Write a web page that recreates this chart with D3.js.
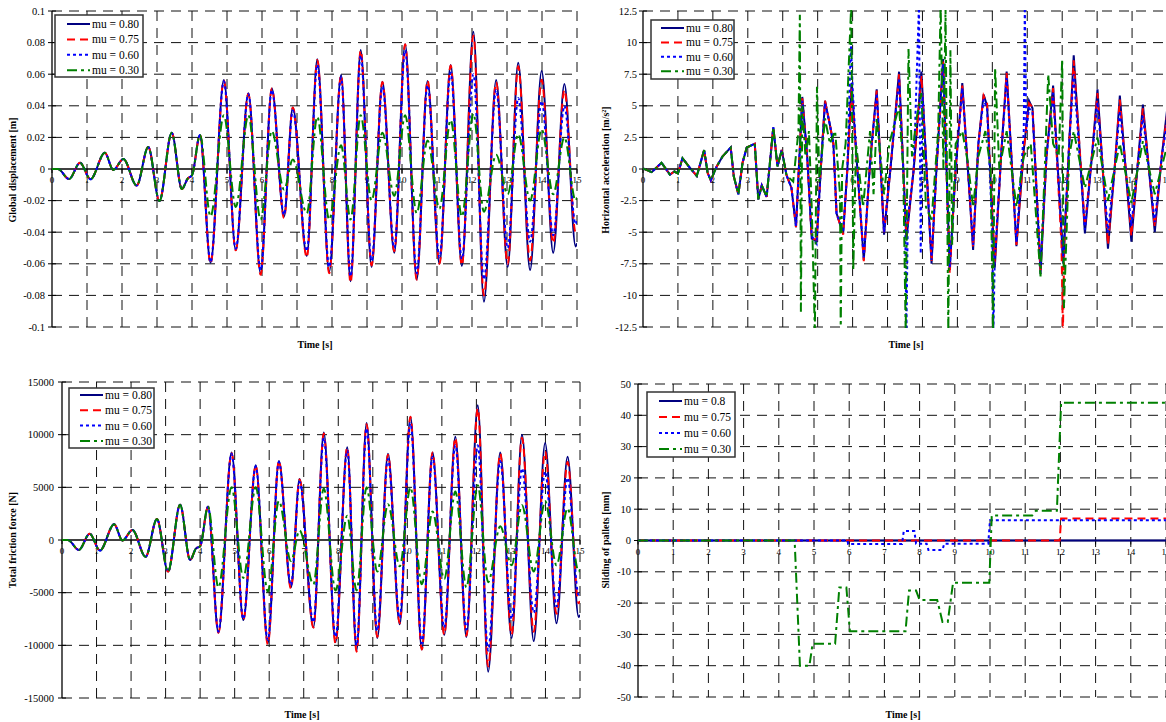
<!DOCTYPE html>
<html><head><meta charset="utf-8">
<script src="https://cdn.jsdelivr.net/npm/d3@7"></script>
<style>
body{margin:0;background:#fff}
svg{display:block}
text{font-family:"Liberation Serif","Times New Roman",serif;fill:#000}
</style>
</head><body>
<svg id="chart" width="1166" height="722"></svg>
<script>
// ---------------- DATA ----------------
const legendLabels = ["mu = 0.80", "mu = 0.75", "mu = 0.60", "mu = 0.30"];
const slideLegendLabels = ["mu = 0.8", "mu = 0.75", "mu = 0.60", "mu = 0.30"];
const timeTicks = [0,1,2,3,4,5,6,7,8,9,10,11,12,13,14,15];
const dispTicks = [-0.1,-0.08,-0.06,-0.04,-0.02,0,0.02,0.04,0.06,0.08,0.1];
const accTicks = [-12.5,-10,-7.5,-5,-2.5,0,2.5,5,7.5,10,12.5];
const forceTicks = [-15000,-10000,-5000,0,5000,10000,15000];
const slideTicks = [-50,-40,-30,-20,-10,0,10,20,30,40,50];

// times of the extrema read for displacement and friction force
const extremaTime = [0,0.17,0.49,0.8,1.1, 1.51,1.75,2.04,2.42,2.75, 3.07,3.42,3.71,3.88,4.0,
  4.23,4.53,4.91,5.25,5.61, 5.96,6.28,6.63,6.88,7.28, 7.58,7.92,8.26,8.53,8.82,
  9.13,9.44,9.78,10.09,10.42, 10.73,11.07,11.39,11.71,12.04, 12.34,12.69,13.02,13.32,13.66,
  13.99,14.32,14.64,14.96,15];

const disp80 = [0,0,-0.0064,0.004,-0.0065, 0.0103,-0.0006,0.0063,-0.0105,0.0139, -0.0203,0.023,-0.0127,-0.006,-0.004,
  0.0215,-0.0593,0.0563,-0.0513,0.0479, -0.066,0.051,-0.030,0.039,-0.055, 0.0694,-0.065,0.0595,-0.071,0.0753,
  -0.062,0.0553,-0.053,0.0789,-0.070, 0.0557,-0.060,0.0658,-0.0614,0.0869, -0.084,0.0563,-0.062,0.0673,-0.064,
  0.062,-0.053,0.0538,-0.049,-0.047];
const disp75 = [0,0,-0.0064,0.004,-0.0065, 0.0103,-0.0006,0.0063,-0.0105,0.0139, -0.0203,0.023,-0.0127,-0.006,-0.004,
  0.0215,-0.0598,0.056,-0.0515,0.0476, -0.067,0.051,-0.031,0.039,-0.056, 0.069,-0.066,0.0595,-0.072,0.075,
  -0.061,0.055,-0.052,0.079,-0.070, 0.056,-0.060,0.0655,-0.061,0.0845, -0.080,0.055,-0.060,0.065,-0.058,
  0.0565,-0.047,0.050,-0.040,-0.038];
const disp60 = [0,0,-0.0064,0.004,-0.0065, 0.0103,-0.0006,0.0063,-0.0105,0.0139, -0.0203,0.023,-0.0127,-0.006,-0.004,
  0.0215,-0.059,0.0555,-0.0505,0.0475, -0.064,0.050,-0.029,0.037,-0.052, 0.066,-0.062,0.058,-0.068,0.072,
  -0.058,0.052,-0.050,0.075,-0.066, 0.053,-0.056,0.061,-0.057,0.060, -0.070,0.050,-0.050,0.045,-0.046,
  0.043,-0.042,0.040,-0.035,-0.033];
const disp30 = [0,0,-0.0064,0.004,-0.0065, 0.0103,-0.0006,0.0063,-0.0105,0.0139, -0.0203,0.023,-0.0127,-0.006,-0.004,
  0.0215,-0.030,0.034,-0.024,0.034, -0.032,0.024,-0.013,0.006,-0.028, 0.033,-0.032,0.015,-0.032,0.034,
  -0.020,0.023,-0.017,0.034,-0.028, 0.018,-0.025,0.031,-0.030,0.035, -0.027,0.009,-0.016,0.022,-0.020,
  0.025,-0.016,0.020,-0.020,-0.018];

const force80 = [0,0,-950,600,-1000, 1500,-50,950,-1600,2000, -3000,3350,-1900,-800,-600,
  3150,-8800,8300,-7600,7100, -9800,7500,-4500,5800,-8300, 10200,-9700,8800,-10500,11100,
  -9300,8200,-8000,11700,-10400, 8300,-9000,9800,-9200,12800, -12500,8300,-9300,10000,-9600,
  9200,-7900,7900,-7300,-7100];
const force75 = [0,0,-950,600,-1000, 1500,-50,950,-1600,2000, -3000,3350,-1900,-800,-600,
  3150,-8800,8250,-7600,7050, -9900,7500,-4600,5750,-8300, 10100,-9800,8800,-10600,11000,
  -9200,8100,-7900,11700,-10400, 8300,-9000,9700,-9100,12500, -12000,8200,-9000,9700,-8700,
  8400,-7000,7400,-6000,-5800];
const force60 = [0,0,-950,600,-1000, 1500,-50,950,-1600,2000, -3000,3350,-1900,-800,-600,
  3150,-8700,8200,-7500,7000, -9500,7400,-4300,5500,-7800, 9700,-9200,8500,-10000,10600,
  -8600,7700,-7400,11100,-9800, 7900,-8300,9000,-8500,9000, -10500,7500,-7500,6800,-6900,
  6500,-6300,5900,-5200,-5000];
const force30 = [0,0,-950,600,-1000, 1500,-50,950,-1600,2000, -3000,3350,-1900,-800,-600,
  3150,-4500,5000,-3600,5000, -4900,3700,-2000,900,-4200, 4900,-4800,2300,-4800,5000,
  -3000,3400,-2500,5000,-4200, 2700,-3700,4600,-4500,5200, -4000,1300,-2400,3300,-3000,
  3700,-2400,3000,-3000,-2800];

// horizontal acceleration [t, a]
const acc80 = [[0,0.05],[0.25,-0.25],[0.53,0.5],[0.77,-0.45],[0.9,-0.2],[1.0,-0.35],[1.13,0.85],[1.34,0.1],
  [1.54,-0.55],[1.75,1.5],[1.85,-0.3],[1.94,-0.9],[2.11,0.2],[2.28,1.0],[2.51,1.7],[2.6,-0.6],[2.73,-2.0],
  [2.85,0.5],[2.97,1.7],[3.2,2.0],[3.3,-2.4],[3.4,-1.3],[3.54,-2.2],[3.73,3.3],[3.85,0.2],[3.97,1.5],
  [4.11,-0.5],[4.25,-1.5],[4.38,-4.6],[4.56,5.7],[4.7,1.0],[4.83,-5.5],[4.97,-5.7],[5.1,0.5],[5.21,5.4],
  [5.35,3.5],[5.45,2],[5.54,-3.5],[5.73,-5.1],[5.85,0],[5.97,6.8],[6.11,1.0],[6.32,-7.2],[6.5,0.5],
  [6.69,6.3],[6.9,-5.2],[7.1,0.5],[7.33,7.7],[7.54,-5.6],[7.75,0],[7.97,7.7],[8.26,-7.5],[8.4,0],
  [8.59,8.7],[8.78,-8.0],[8.95,0],[9.14,6.8],[9.45,-6.4],[9.6,2],[9.75,5.9],[9.85,5.0],[10.07,-7.8],
  [10.25,1],[10.41,7.7],[10.69,-6.1],[10.9,1.5],[11.05,5.4],[11.15,4.8],[11.38,-8.3],[11.55,1],[11.74,6.6],
  [12.03,-7.5],[12.2,2],[12.33,9.0],[12.65,-5.1],[12.85,1],[13.01,6.3],[13.31,-6.3],[13.5,0],[13.65,5.8],
  [13.98,-5.75],[14.15,0],[14.31,5.1],[14.65,-5.0],[14.85,1],[15,4.6]];
const acc75 = [[0,0.05],[0.25,-0.25],[0.53,0.5],[0.77,-0.45],[0.9,-0.2],[1.0,-0.35],[1.13,0.85],[1.34,0.1],
  [1.54,-0.55],[1.75,1.5],[1.85,-0.3],[1.94,-0.9],[2.11,0.2],[2.28,1.0],[2.51,1.7],[2.6,-0.6],[2.73,-2.0],
  [2.85,0.5],[2.97,1.7],[3.2,2.0],[3.3,-2.4],[3.4,-1.3],[3.54,-2.2],[3.73,3.3],[3.85,0.2],[3.97,1.5],
  [4.11,-0.5],[4.25,-1.5],[4.38,-4.6],[4.56,5.6],[4.7,1.0],[4.83,-5.5],[4.97,-5.6],[5.1,0.5],[5.21,5.4],
  [5.35,3.5],[5.45,2],[5.54,-3.5],[5.73,-5.2],[5.85,0],[5.97,6.5],[6.11,1.0],[6.32,-7.3],[6.5,0.5],
  [6.69,6.2],[6.9,-5.0],[7.1,0.5],[7.33,7.5],[7.54,-5.4],[7.75,0],[7.97,7.4],[8.26,-7.3],[8.4,0],
  [8.59,8.5],[8.78,-8.3],[8.95,0],[9.14,6.6],[9.45,-6.2],[9.6,2],[9.75,5.8],[9.85,5.2],[10.07,-7.5],
  [10.25,1],[10.41,7.6],[10.69,-6.0],[10.9,1.5],[11.05,5.2],[11.15,4.9],[11.38,-8.0],[11.55,1],[11.74,6.4],
  [11.98,-6],[12.02,-13],[12.06,-6],[12.2,2],[12.33,8.6],[12.65,-4.5],[12.85,1],[13.01,6.0],[13.31,-6.0],
  [13.5,0],[13.65,5.5],[13.98,-5.3],[14.15,0],[14.31,4.8],[14.65,-4.6],[14.85,1],[15,4.2]];
const acc60 = [[0,0.05],[0.25,-0.25],[0.53,0.5],[0.77,-0.45],[0.9,-0.2],[1.0,-0.35],[1.13,0.85],[1.34,0.1],
  [1.54,-0.55],[1.75,1.5],[1.85,-0.3],[1.94,-0.9],[2.11,0.2],[2.28,1.0],[2.51,1.7],[2.6,-0.6],[2.73,-2.0],
  [2.85,0.5],[2.97,1.7],[3.2,2.0],[3.3,-2.4],[3.4,-1.3],[3.54,-2.2],[3.73,3.3],[3.85,0.2],[3.97,1.5],
  [4.11,-0.5],[4.25,-1.5],[4.38,-4.5],[4.56,5.4],[4.7,1.0],[4.83,-5.3],[4.97,-5.9],[5.1,0.5],[5.21,5.2],
  [5.35,3.5],[5.45,2],[5.54,-3.5],[5.73,-5.0],[5.85,0],[5.95,10],[6.0,6.5],[6.11,1.0],[6.32,-7.0],[6.5,0.5],
  [6.69,6.0],[6.9,-5.0],[7.1,0.5],[7.33,7.2],[7.5,-3],[7.54,-13],[7.58,-4],[7.75,0],[7.9,13],[7.95,-6.7],
  [8.0,6],[8.26,-7.2],[8.4,0],[8.59,8.3],[8.78,-7.8],[8.95,0],[9.14,6.4],[9.45,-6.0],[9.6,2],[9.75,5.5],
  [9.85,4.8],[10.0,-5],[10.03,-13],[10.07,-7],[10.25,1],[10.41,7.2],[10.69,-5.8],[10.9,3],[10.93,13],
  [10.97,3],[11.05,4.8],[11.15,4.5],[11.38,-7.6],[11.55,1],[11.74,6.0],[12.03,-7.0],[12.2,2],[12.33,7.5],
  [12.65,-4.8],[12.85,1],[13.01,5.3],[13.31,-5.0],[13.5,0],[13.65,4.6],[13.98,-4.5],[14.15,0],[14.31,4.2],
  [14.65,-4.2],[14.85,1],[15,3.6]];
const acc30 = [[0,0.05],[0.25,-0.25],[0.53,0.5],[0.77,-0.45],[0.9,-0.2],[1.0,-0.35],[1.13,0.85],[1.34,0.1],
  [1.54,-0.55],[1.75,1.5],[1.85,-0.3],[1.94,-0.9],[2.11,0.2],[2.28,1.0],[2.51,1.7],[2.6,-0.6],[2.73,-2.0],
  [2.85,0.5],[2.97,1.7],[3.2,2.0],[3.3,-2.4],[3.4,-1.3],[3.54,-2.2],[3.73,3.3],[3.85,0.2],[3.97,1.5],
  [4.11,-0.5],[4.3,-1],[4.45,3],[4.49,12.2],[4.52,-11.3],[4.56,5],[4.65,1],[4.75,3],[4.83,-3],[4.92,-13],
  [4.98,6.5],[5.05,-1],[5.21,4],[5.35,2],[5.5,3],[5.64,-2],[5.66,-13],[5.7,0],[5.8,2],[5.96,13],[6.02,-8],
  [6.1,2],[6.3,-3],[6.5,3],[6.6,-2],[6.69,4],[6.8,1],[6.9,-2],[7.05,2],[7.33,5],[7.45,0],[7.52,-13],
  [7.6,9.5],[7.7,1],[7.83,4],[7.97,6],[8.1,-3],[8.26,-4],[8.45,3],[8.52,13],[8.6,0],[8.66,12.8],
  [8.74,-13],[8.8,9.4],[8.85,-6],[8.95,2],[9.14,3],[9.3,0.5],[9.45,-3],[9.6,1],[9.8,3],[9.95,0],
  [10.02,-13],[10.08,8],[10.2,0],[10.41,3],[10.55,0],[10.69,-3],[10.9,1],[11.1,2],[11.38,-8.5],[11.5,0],
  [11.6,7.5],[11.74,2],[11.9,1],[12.0,8.7],[12.05,-11],[12.2,1],[12.33,3],[12.65,-1.5],[13.01,2.5],
  [13.31,-2.5],[13.65,2],[13.98,-2.7],[14.31,2.2],[14.65,-2],[15,1.8]];

// sliding of pallets [t, mm]
const slide80 = [[0,0],[15,0]];
const slide75 = [[0,0],[11.98,0],[12.02,7],[15,7]];
const slide60 = [[0,0],[5.95,0],[5.97,-1.1],[7.5,-1.1],[7.55,3],[7.85,3],[7.9,-1],[8.2,-1],[8.25,-3],
  [8.65,-3],[8.7,-1],[9.95,-1],[10.0,6.5],[15,6.5]];
const slide30 = [[0,0],[4.45,0],[4.6,-40],[4.87,-40],[4.96,-33],[5.6,-33],[5.72,-15],[5.92,-15],[6.02,-29],
  [7.6,-29],[7.7,-16],[7.9,-16],[8.0,-19],[8.5,-19],[8.65,-26],[8.8,-26],[8.95,-13.5],[9.98,-13.5],
  [10.05,8],[11.2,8],[11.3,9.5],[11.9,9.5],[12.02,44],[15,44]];

// ---------------- STYLE ----------------
const seriesStyle = [
  {color:"#000080", dash:null},
  {color:"#ff0000", dash:"8,5"},
  {color:"#0000ff", dash:"3,3"},
  {color:"#008000", dash:"10,4,3,4"}
];

const svg = d3.select("#chart");
const W = 1166;

function drawPanel(cfg){
  const g = svg.append("g");
  const x = d3.scaleLinear().domain([0,15]).range([cfg.x0, cfg.x15]);
  const y = d3.scaleLinear().domain([cfg.ticks[0], cfg.ticks[cfg.ticks.length-1]]).range([cfg.yBot, cfg.yTop]);
  const xr = Math.min(cfg.x15, W);
  const clipId = "clip" + cfg.id;
  svg.append("clipPath").attr("id", clipId).append("rect")
    .attr("x", cfg.x0).attr("y", cfg.yTop-1).attr("width", xr-cfg.x0).attr("height", cfg.yBot-cfg.yTop+2);

  // grid
  g.selectAll(".hg").data(cfg.ticks.filter(v=>v!==0)).join("line")
    .attr("x1", cfg.x0).attr("x2", cfg.x15).attr("y1", d=>y(d)).attr("y2", d=>y(d))
    .attr("stroke","#111").attr("stroke-width",1).attr("stroke-dasharray","10,7");
  g.selectAll(".vg").data(timeTicks.filter(v=>v>0)).join("line")
    .attr("x1", d=>x(d)).attr("x2", d=>x(d)).attr("y1", cfg.yTop).attr("y2", cfg.yBot)
    .attr("stroke","#111").attr("stroke-width",1).attr("stroke-dasharray","10,7");
  // y tick marks
  g.selectAll(".yt").data(cfg.ticks).join("line")
    .attr("x1", cfg.x0-4).attr("x2", cfg.x0+4).attr("y1", d=>y(d)).attr("y2", d=>y(d))
    .attr("stroke","#000").attr("stroke-width",1);
  // data
  const line = d3.line().x(d=>x(d[0])).y(d=>y(d[1])).curve(cfg.curve);
  const dg = g.append("g").attr("clip-path", `url(#${clipId})`);
  // zero line and y axis
  g.append("line").attr("x1", cfg.x0).attr("x2", cfg.x15).attr("y1", y(0)).attr("y2", y(0))
    .attr("stroke","#000").attr("stroke-width",1.3);
  g.append("line").attr("x1", cfg.x0).attr("x2", cfg.x0).attr("y1", cfg.yTop).attr("y2", cfg.yBot)
    .attr("stroke","#000").attr("stroke-width",1.3);
  // x tick marks on zero line
  g.selectAll(".xt").data(timeTicks).join("line")
    .attr("x1", d=>x(d)).attr("x2", d=>x(d)).attr("y1", y(0)).attr("y2", y(0)+4)
    .attr("stroke","#000").attr("stroke-width",1);

  // y labels
  g.selectAll(".yl").data(cfg.ticks).join("text")
    .attr("x", cfg.x0-cfg.labelGap).attr("y", d=>y(d)).attr("dy","0.35em")
    .attr("text-anchor","end").attr("font-size",10.5).text(d=>cfg.fmt(d));
  // x labels
  g.selectAll(".xl").data(timeTicks).join("text")
    .attr("x", d=>x(d)).attr("y", y(0)+14).attr("text-anchor","middle")
    .attr("font-size",9).text(d=>d);

  // axis titles
  g.append("text").attr("transform",`translate(${cfg.yTitleX},${cfg.yTitleY}) rotate(-90)`)
    .attr("text-anchor","middle").attr("font-size",10).attr("font-weight","bold").text(cfg.yTitle);
  g.append("text").attr("x", cfg.xTitleX).attr("y", cfg.xTitleY).attr("text-anchor","middle")
    .attr("font-size",10).attr("font-weight","bold").text("Time [s]");

  // data lines (drawn above axes like the reference)
  const dg2 = g.append("g").attr("clip-path", `url(#${clipId})`);
  cfg.series.forEach((s,i)=>{
    dg2.append("path").datum(s).attr("d", line).attr("fill","none")
      .attr("stroke", seriesStyle[i].color).attr("stroke-width",2)
      .attr("stroke-dasharray", seriesStyle[i].dash);
  });

  // legend
  const L = cfg.legend;
  const lg = g.append("g");
  lg.append("rect").attr("x", L.x).attr("y", L.y).attr("width", L.w).attr("height", L.h)
    .attr("fill","#fff").attr("stroke","#333").attr("stroke-width",1.5);
  cfg.labels.forEach((lab,i)=>{
    const ry = L.row0 + i*L.rowH;
    lg.append("line").attr("x1", L.sx).attr("x2", L.sx+23).attr("y1", ry).attr("y2", ry)
      .attr("stroke", seriesStyle[i].color).attr("stroke-width",2)
      .attr("stroke-dasharray", seriesStyle[i].dash);
    lg.append("text").attr("x", L.sx+25).attr("y", ry).attr("dy","0.35em")
      .attr("font-size",11.5).text(lab);
  });
}

const zip = (t, v) => t.map((tt,i)=>[tt, v[i]]);

drawPanel({id:1, x0:52, x15:577, yTop:11, yBot:327, ticks:dispTicks,
  fmt:d=>String(+d.toFixed(2)), labelGap:7,
  yTitle:"Global displacement [m]", yTitleX:16, yTitleY:170, xTitleX:315, xTitleY:348,
  curve:d3.curveMonotoneX,
  series:[zip(extremaTime,disp80), zip(extremaTime,disp75), zip(extremaTime,disp60), zip(extremaTime,disp30)],
  labels:legendLabels,
  legend:{x:55, y:15, w:88, h:62, row0:24, rowH:15.4, sx:67}});

drawPanel({id:2, x0:643, x15:1167, yTop:11, yBot:327, ticks:accTicks,
  fmt:d=>String(d), labelGap:6,
  yTitle:"Horizontal acceleration [m/s²]", yTitleX:609, yTitleY:170, xTitleX:906, xTitleY:348,
  curve:d3.curveLinear,
  series:[acc80, acc75, acc60, acc30],
  labels:legendLabels,
  legend:{x:651, y:20, w:83, h:59, row0:28, rowH:14.4, sx:661}});

drawPanel({id:3, x0:62, x15:580, yTop:382, yBot:698, ticks:forceTicks,
  fmt:d=>String(d), labelGap:8,
  yTitle:"Total friction force [N]", yTitleX:16, yTitleY:540, xTitleX:302, xTitleY:718,
  curve:d3.curveMonotoneX,
  series:[zip(extremaTime,force80), zip(extremaTime,force75), zip(extremaTime,force60), zip(extremaTime,force30)],
  labels:legendLabels,
  legend:{x:69, y:388, w:85, h:60, row0:395, rowH:15.3, sx:80}});

drawPanel({id:4, x0:638, x15:1166, yTop:384, yBot:697, ticks:slideTicks,
  fmt:d=>String(d), labelGap:7,
  yTitle:"Sliding of pallets [mm]", yTitleX:609, yTitleY:540, xTitleX:903, xTitleY:718,
  curve:d3.curveLinear,
  series:[slide80, slide75, slide60, slide30],
  labels:slideLegendLabels,
  legend:{x:647, y:392, w:88, h:65, row0:401, rowH:16, sx:659}});
</script>
</body></html>
